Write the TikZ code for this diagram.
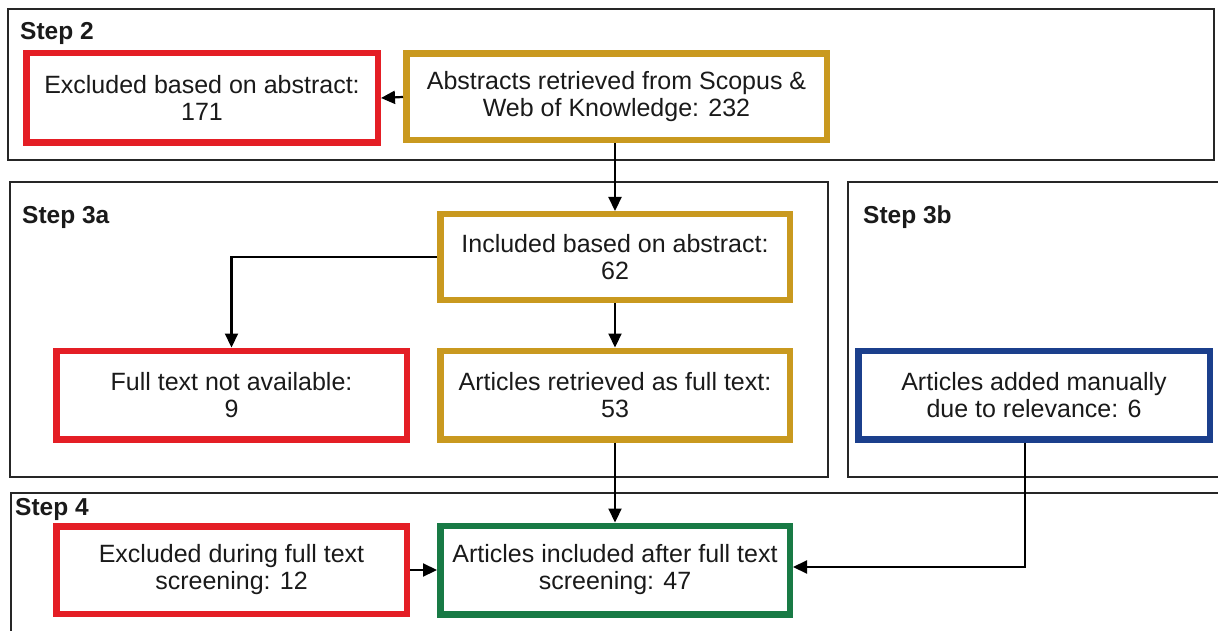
\documentclass[tikz,border=0pt]{standalone}
\usepackage{fontspec}
\setmainfont{Liberation Sans}
\usetikzlibrary{arrows.meta,calc}
\definecolor{cred}{HTML}{E41E25}
\definecolor{cgold}{HTML}{C9991F}
\definecolor{cblue}{HTML}{1B3F8C}
\definecolor{cgreen}{HTML}{187A45}
\definecolor{ctext}{HTML}{1A1A1A}
\tikzset{
  stepframe/.style={draw=black!85, line width=1.4pt},
  steplabel/.style={anchor=west, inner sep=0pt, font=\fontsize{24.5}{27}\selectfont\bfseries, text=ctext},
  box/.style={draw=#1, line width=6.5pt, fill=white, align=center, inner sep=0pt,
    font=\fontsize{25}{27}\selectfont, text=ctext},
  arr/.style={draw=black, line width=2.2pt, -{Triangle[length=14pt,width=13pt]}},
}
\begin{document}
\begin{tikzpicture}[x=1pt,y=-1pt]
\useasboundingbox (0,0) rectangle (1218,631);
% frames
\draw[stepframe] (8,9) rectangle (1214,160);
\draw[stepframe] (10,182) rectangle (828,477);
\draw[stepframe] (1225,182) -- (848,182) -- (848,477) -- (1225,477);
\draw[stepframe] (1225,493) -- (11,493) -- (11,640);
% step labels
\node[steplabel] (s2) at (20,33) {Step 2};
\node[steplabel] (s3a) at (22,217) {Step 3a};
\node[steplabel] (s3b) at (863,217) {Step 3b};
\node[steplabel] (s4) at (15,509) {Step 4};
% boxes
\node[box=cred, minimum width=351.5, minimum height=89.5] (exA) at (202,98) {Excluded based on abstract:\\171};
\node[box=cgold, minimum width=420.5, minimum height=86.5] (abs) at (616.5,97) {Abstracts retrieved from Scopus \&\\Web of Knowledge: 232};
\node[box=cgold, minimum width=349.5, minimum height=85.5] (inc) at (615,257) {Included based on abstract:\\62};
\node[box=cred, minimum width=350.5, minimum height=88.5] (ft) at (231.5,395) {Full text not available:\\9};
\node[box=cgold, minimum width=349.5, minimum height=88.5] (art) at (615,395) {Articles retrieved as full text:\\53};
\node[box=cblue, minimum width=351.5, minimum height=88.5] (man) at (1034,395) {Articles added manually\\due to relevance: 6};
\node[box=cred, minimum width=350.5, minimum height=87.5] (ex4) at (231.5,570) {Excluded during full text\\screening: 12};
\node[box=cgreen, minimum width=349.5, minimum height=88.5] (grn) at (615,570) {Articles included after full text\\screening: 47};
% connectors
\draw[arr] (abs.west) -- (exA.east);
\draw[arr] (abs.south -| inc.north) -- (inc.north);
\draw[arr] (inc.west) -| (ft.north);
\draw[arr] (inc.south) -- (art.north);
\draw[arr] (art.south) -- (grn.north);
\draw[arr] (ex4.east) -- (grn.west);
\draw[arr] ([xshift=-9pt]man.south) |- ([yshift=3pt]grn.east);
\end{tikzpicture}
\end{document}
